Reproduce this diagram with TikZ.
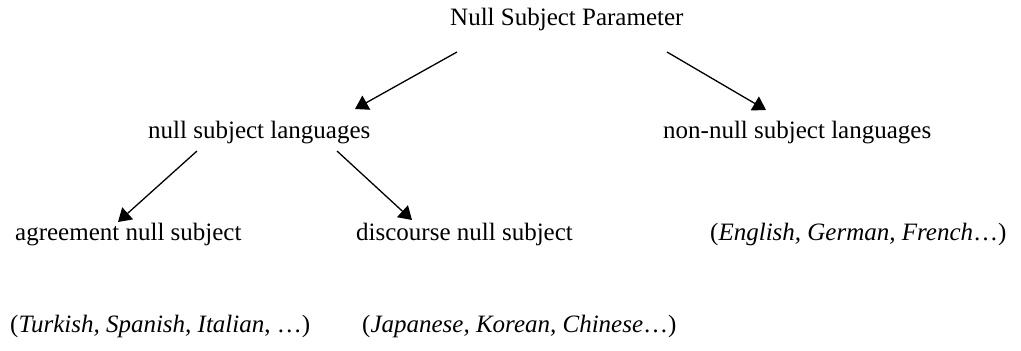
\documentclass[tikz,border=0pt]{standalone}
\usepackage{fontspec}
\setmainfont{Liberation Serif}
\usetikzlibrary{arrows.meta}
\tikzset{
  lbl/.style={anchor=base west, inner sep=0pt, font=\fontsize{25}{29}\selectfont},
  arr/.style={line width=1.3pt, -{Triangle[length=13pt,width=16pt]}}
}
\begin{document}
\begin{tikzpicture}[x=1pt,y=1pt]
  \useasboundingbox (0,0) rectangle (1021,-351);
  % tree labels
  \node[lbl] (top)  at (450,-25)  {Null Subject Parameter};
  \node[lbl] (nsl)  at (148,-138) {null subject languages};
  \node[lbl] (nnsl) at (663,-138) {non-null subject languages};
  \node[lbl] (agr)  at (15,-240)  {agreement null subject};
  \node[lbl] (dis)  at (356,-240) {discourse null subject};
  \node[lbl] (eng)  at (710,-240) {(\textit{English, German, French}\ldots)};
  \node[lbl] (tur)  at (10,-332)  {(\textit{Turkish, Spanish, Italian}, \ldots)};
  \node[lbl] (jap)  at (362,-332) {(\textit{Japanese, Korean, Chinese}\ldots)};
  % branches
  \draw[arr] ([shift={(7,-27)}]top.base west) -- ([shift={(207,29)}]nsl.base west);
  \draw[arr] ([shift={(217,-27)}]top.base west) -- ([shift={(103,28)}]nnsl.base west);
  \draw[arr] ([shift={(49,-13)}]nsl.base west) -- ([shift={(103,18)}]agr.base west);
  \draw[arr] ([shift={(189,-13)}]nsl.base west) -- ([shift={(56,20)}]dis.base west);
\end{tikzpicture}
\end{document}
